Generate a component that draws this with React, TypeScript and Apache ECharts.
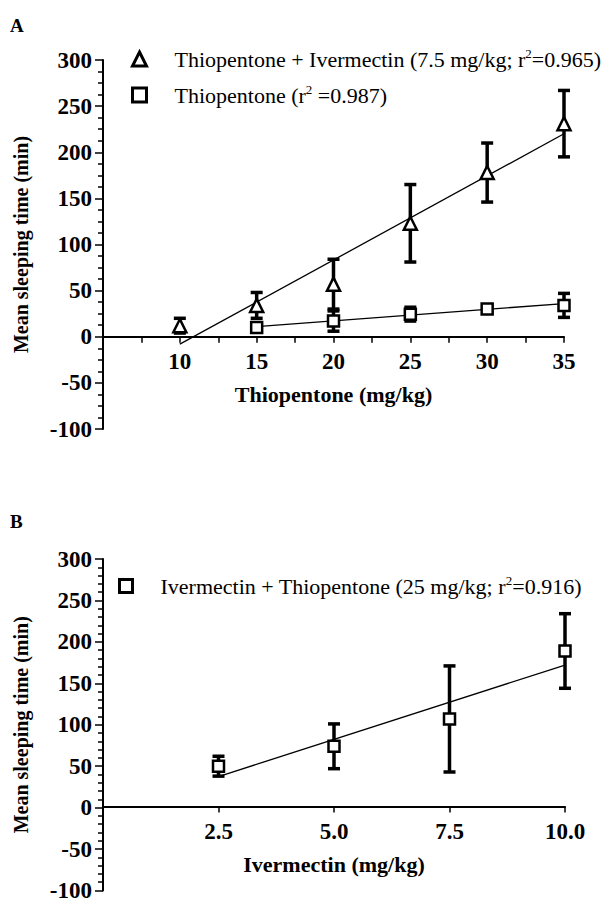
import React, { useEffect, useRef } from "react";
import * as echarts from "echarts";

// ---------- Data ----------
// Panel A
const thioDoses = [10, 15, 20, 25, 30, 35];
const comboMean = [12, 34, 57, 123, 178, 231];
const comboErr = [8, 14, 27, 42, 32, 36];
const thioAloneDoses = [15, 20, 25, 30, 35];
const thioAloneMean = [10, 17, 24.5, 30, 34];
const thioAloneErr = [5, 11, 7.5, 4, 13];
const comboFitX = [10, 35];
const comboFitY = [-8, 220];
const thioFitX = [15, 35];
const thioFitY = [11, 36];
// Panel B
const ivDoses = [2.5, 5, 7.5, 10];
const ivMean = [50, 74, 107, 189];
const ivErr = [12, 27, 64, 45];
const ivFitX = [2.5, 10];
const ivFitY = [37.5, 172];

// Legend texts (parts: before superscript, superscript, after)
const legendA1 = ["Thiopentone + Ivermectin (7.5 mg/kg; r", "2", "=0.965)"];
const legendA2 = ["Thiopentone (r", "2", " =0.987)"];
const legendB1 = ["Ivermectin + Thiopentone (25 mg/kg; r", "2", "=0.916)"];

const xTitleA = "Thiopentone (mg/kg)";
const xTitleB = "Ivermectin (mg/kg)";
const yTitle = "Mean sleeping time (min)";

const FONT = "Liberation Serif";

export default function App() {
  const ref = useRef<HTMLDivElement>(null);

  useEffect(() => {
    if (!ref.current) return;
    const chart = echarts.init(ref.current, undefined, { renderer: "svg" });

    const nameA1 = legendA1.join("");
    const nameA2 = legendA2.join("");
    const nameB1 = legendB1.join("");
    const legendParts: Record<string, string[]> = {
      [nameA1]: legendA1,
      [nameA2]: legendA2,
      [nameB1]: legendB1,
    };
    const legendFormatter = (n: string) => {
      const p = legendParts[n];
      return `{t|${p[0]}}{s|${p[1]}}{t|${p[2]}}`;
    };
    const legendRich = {
      t: { fontFamily: FONT, fontSize: 22, color: "#000", lineHeight: 24 },
      s: { fontFamily: FONT, fontSize: 13, color: "#000", lineHeight: 16, verticalAlign: "top" },
    };

    const errRender = (params: any, api: any) => {
      const x = api.value(0);
      const m = api.value(1);
      const e = api.value(2);
      const top = api.coord([x, m + e]);
      const bot = api.coord([x, m - e]);
      const hw = 6;
      const style = { stroke: "#000", lineWidth: 3.5, fill: "none" };
      return {
        type: "group",
        children: [
          { type: "line", shape: { x1: top[0], y1: top[1], x2: bot[0], y2: bot[1] }, style },
          { type: "line", shape: { x1: top[0] - hw, y1: top[1], x2: top[0] + hw, y2: top[1] }, style },
          { type: "line", shape: { x1: bot[0] - hw, y1: bot[1], x2: bot[0] + hw, y2: bot[1] }, style },
        ],
      };
    };

    const axisLabel = { fontFamily: FONT, fontWeight: "bold", fontSize: 23, color: "#000" };
    const xNameStyle = { fontFamily: FONT, fontWeight: "bold", fontSize: 22, color: "#000" };
    const yNameStyle = { fontFamily: FONT, fontWeight: "bold", fontSize: 20, color: "#000" };

    const makeX = (
      gridIndex: number,
      min: number,
      max: number,
      interval: number,
      minor: boolean,
      name: string,
      offset: number,
      fmt: (v: number) => string
    ) => ({
      type: "value",
      gridIndex,
      position: "bottom",
      offset,
      min,
      max,
      interval,
      name,
      nameLocation: "middle",
      nameGap: 47,
      nameTextStyle: xNameStyle,
      axisLine: { show: true, onZero: false, lineStyle: { color: "#000", width: 2 } },
      axisTick: { show: true, length: 6, lineStyle: { color: "#000", width: 1.5 } },
      minorTick: { show: minor, splitNumber: 2, length: 6, lineStyle: { color: "#000", width: 1.5 } },
      axisLabel: { ...axisLabel, margin: 13, formatter: fmt },
      splitLine: { show: false },
      minorSplitLine: { show: false },
    });

    const makeY = (gridIndex: number, minorSplit: number) => ({
      type: "value",
      gridIndex,
      min: -100,
      max: 300,
      interval: 50,
      name: yTitle,
      nameLocation: "middle",
      nameGap: 72,
      nameRotate: 90,
      nameTextStyle: yNameStyle,
      axisLine: { show: true, lineStyle: { color: "#000", width: 2 } },
      axisTick: { show: true, length: 8, lineStyle: { color: "#000", width: 1.5 } },
      minorTick: { show: true, splitNumber: minorSplit, length: 5, lineStyle: { color: "#000", width: 1.5 } },
      axisLabel: { ...axisLabel, margin: 11 },
      splitLine: { show: false },
      minorSplitLine: { show: false },
    });

    const markerStyle = { color: "#fff", borderColor: "#000", borderWidth: 2.5, opacity: 1 };

    // grid geometry; x-axis sits on y = 0 (offset from grid bottom)
    const gA = { left: 103, top: 60, width: 461, height: 369 };
    const gB = { left: 103, top: 559, width: 462, height: 336 };
    const offA = -(gA.height * 100) / 400;
    const offB = -(gB.height * 100) / 400;

    const option: any = {
      animation: false,
      backgroundColor: "#fff",
      textStyle: { fontFamily: FONT },
      grid: [gA, gB],
      xAxis: [
        makeX(0, 5, 35, 5, true, xTitleA, offA, (v: number) => (v === 5 ? "" : String(v))),
        makeX(1, 0, 10, 2.5, false, xTitleB, offB, (v: number) => (v === 0 ? "" : v.toFixed(1))),
      ],
      yAxis: [makeY(0, 4), makeY(1, 5)],
      legend: [
        {
          data: [nameA1, nameA2],
          left: 131,
          top: 47,
          padding: 0,
          orient: "vertical",
          itemGap: 13,
          itemWidth: 14,
          itemHeight: 14,
          selectedMode: false,
          formatter: legendFormatter,
          itemStyle: { borderWidth: 3 },
          textStyle: { rich: legendRich, padding: [0, 0, 0, 23] },
        },
        {
          data: [nameB1],
          left: 118,
          top: 574,
          padding: 0,
          orient: "vertical",
          itemWidth: 13,
          itemHeight: 13,
          selectedMode: false,
          formatter: legendFormatter,
          itemStyle: { borderWidth: 3 },
          textStyle: { rich: legendRich, padding: [0, 0, 0, 23] },
        },
      ],
      graphic: [
        { type: "text", left: 10, top: 16, style: { text: "A", font: `bold 19px "${FONT}"`, fill: "#000" } },
        { type: "text", left: 10, top: 512, style: { text: "B", font: `bold 19px "${FONT}"`, fill: "#000" } },
      ],
      series: [
        // Panel A regression lines
        {
          type: "line",
          xAxisIndex: 0,
          yAxisIndex: 0,
          data: comboFitX.map((x, i) => [x, comboFitY[i]]),
          symbol: "none",
          lineStyle: { color: "#000", width: 1.3 },
          silent: true,
          z: 1,
        },
        {
          type: "line",
          xAxisIndex: 0,
          yAxisIndex: 0,
          data: thioFitX.map((x, i) => [x, thioFitY[i]]),
          symbol: "none",
          lineStyle: { color: "#000", width: 1.3 },
          silent: true,
          z: 1,
        },
        // Panel A error bars
        {
          type: "custom",
          xAxisIndex: 0,
          yAxisIndex: 0,
          data: thioDoses.map((d, i) => [d, comboMean[i], comboErr[i]]),
          encode: { x: 0, y: 1 },
          renderItem: errRender,
          silent: true,
          z: 2,
        },
        {
          type: "custom",
          xAxisIndex: 0,
          yAxisIndex: 0,
          data: thioAloneDoses.map((d, i) => [d, thioAloneMean[i], thioAloneErr[i]]),
          encode: { x: 0, y: 1 },
          renderItem: errRender,
          silent: true,
          z: 2,
        },
        // Panel A markers
        {
          name: nameA1,
          type: "scatter",
          xAxisIndex: 0,
          yAxisIndex: 0,
          symbol: "triangle",
          symbolSize: 13,
          data: thioDoses.map((d, i) => [d, comboMean[i]]),
          itemStyle: markerStyle,
          z: 3,
        },
        {
          name: nameA2,
          type: "scatter",
          xAxisIndex: 0,
          yAxisIndex: 0,
          symbol: "rect",
          symbolSize: 11,
          data: thioAloneDoses.map((d, i) => [d, thioAloneMean[i]]),
          itemStyle: markerStyle,
          z: 3,
        },
        // Panel B
        {
          type: "line",
          xAxisIndex: 1,
          yAxisIndex: 1,
          data: ivFitX.map((x, i) => [x, ivFitY[i]]),
          symbol: "none",
          lineStyle: { color: "#000", width: 1.3 },
          silent: true,
          z: 1,
        },
        {
          type: "custom",
          xAxisIndex: 1,
          yAxisIndex: 1,
          data: ivDoses.map((d, i) => [d, ivMean[i], ivErr[i]]),
          encode: { x: 0, y: 1 },
          renderItem: errRender,
          silent: true,
          z: 2,
        },
        {
          name: nameB1,
          type: "scatter",
          xAxisIndex: 1,
          yAxisIndex: 1,
          symbol: "rect",
          symbolSize: 11,
          data: ivDoses.map((d, i) => [d, ivMean[i]]),
          itemStyle: markerStyle,
          z: 3,
        },
      ],
    };

    chart.setOption(option);
    return () => chart.dispose();
  }, []);

  return (
    <div
      ref={ref}
      style={{ position: "fixed", left: 0, top: 0, width: 605, height: 902, background: "#fff" }}
    />
  );
}
